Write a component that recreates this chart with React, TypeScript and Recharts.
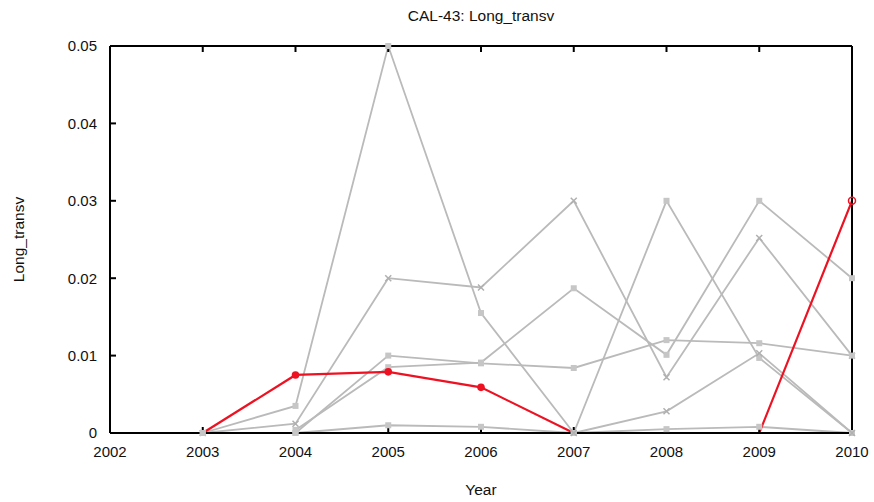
import { LineChart, Line, XAxis, YAxis } from "recharts";

const years = [2002, 2003, 2004, 2005, 2006, 2007, 2008, 2009, 2010];
const yTicks = [0, 0.01, 0.02, 0.03, 0.04, 0.05];

// gray = other sections, red = CAL-43
const s1 = [null, 0, 0.0035, 0.05, 0.0155, 0, 0.03, 0.0097, 0];
const s2 = [null, 0, 0.0012, 0.02, 0.0188, 0.03, 0.0072, 0.0252, 0.01];
const s3 = [null, null, 0, 0.01, 0.009, 0.0084, 0.012, 0.0116, 0.01];
const s4 = [null, null, 0.0004, 0.0085, 0.0091, 0.0187, 0.0101, 0.03, 0.02];
const s5 = [null, 0, 0, 0.001, 0.0008, 0, 0.0005, 0.0008, 0];
const s6 = [null, null, null, null, null, 0, 0.0028, 0.0103, 0];
const cal43 = [null, 0, 0.0075, 0.0079, 0.0059, 0, null, 0, 0.03];

const data = years.map((year, i) => ({
  year,
  s1: s1[i], s2: s2[i], s3: s3[i], s4: s4[i], s5: s5[i], s6: s6[i],
  cal43: cal43[i],
}));

const GRAY = "#bababa";
const RED = "#ee1122";
const FONT = "'Liberation Sans', Arial, sans-serif";

const SquareDot = (props: any) => {
  const { cx, cy, value, index } = props;
  if (value == null || cx == null || cy == null) return <g key={index} />;
  return <rect key={index} x={cx - 3} y={cy - 3} width={6} height={6} fill="#c6c6c6" />;
};

const CrossDot = (props: any) => {
  const { cx, cy, value, index } = props;
  if (value == null || cx == null || cy == null) return <g key={index} />;
  return (
    <path
      key={index}
      d={`M${cx - 3},${cy - 3}L${cx + 3},${cy + 3}M${cx - 3},${cy + 3}L${cx + 3},${cy - 3}`}
      stroke="#b0b0b0"
      strokeWidth={1.5}
    />
  );
};

// red markers only where the section has a value above zero; last one hollow
const RedDot = (props: any) => {
  const { cx, cy, value, index } = props;
  if (!value || cx == null || cy == null) return <g key={index} />;
  if (index === years.length - 1)
    return <circle key={index} cx={cx} cy={cy} r={3.5} fill="none" stroke={RED} strokeWidth={1.5} />;
  return <circle key={index} cx={cx} cy={cy} r={3.8} fill={RED} />;
};

const tickStyle = { fontSize: 15, fill: "#111", fontFamily: FONT };
const textStyle = { fontSize: 15.5, fill: "#111", fontFamily: FONT };
const frame = { stroke: "#000", strokeWidth: 2 };

export default function App() {
  return (
    <div style={{ position: "absolute", left: 0, top: 0, background: "#fff" }}>
      <LineChart width={874} height={502} data={data} margin={{ top: 0, right: 21, bottom: 0, left: 0 }}>
        <XAxis
          dataKey="year" type="number" domain={[2002, 2010]} ticks={years} interval={0}
          height={69} tickSize={-6} tickMargin={19}
          tick={tickStyle} axisLine={frame} tickLine={frame}
          label={{ value: "Year", position: "insideBottom", offset: 7, style: textStyle }}
        />
        <XAxis
          xAxisId="top" orientation="top" dataKey="year" type="number" domain={[2002, 2010]}
          ticks={years} interval={0} height={46} tickSize={-6} tickFormatter={() => ""}
          axisLine={frame} tickLine={frame}
          label={{ value: "CAL-43: Long_transv", position: "insideTop", offset: 10, style: textStyle }}
        />
        <YAxis
          domain={[0, 0.05]} ticks={yTicks} interval={0} width={110}
          tickSize={-6} tickMargin={19} tick={tickStyle} axisLine={frame} tickLine={frame}
          label={{ value: "Long_transv", angle: -90, position: "insideLeft", offset: 18, style: { ...textStyle, textAnchor: "middle" } }}
        />
        <YAxis
          yAxisId="right" orientation="right" domain={[0, 0.05]} ticks={yTicks} interval={0}
          width={1} tickSize={-6} tickFormatter={() => ""} axisLine={frame} tickLine={frame}
        />
        <Line dataKey="s1" stroke={GRAY} strokeWidth={1.8} dot={SquareDot} activeDot={false} isAnimationActive={false} />
        <Line dataKey="s2" stroke={GRAY} strokeWidth={1.8} dot={CrossDot} activeDot={false} isAnimationActive={false} />
        <Line dataKey="s3" stroke={GRAY} strokeWidth={1.8} dot={SquareDot} activeDot={false} isAnimationActive={false} />
        <Line dataKey="s4" stroke={GRAY} strokeWidth={1.8} dot={SquareDot} activeDot={false} isAnimationActive={false} />
        <Line dataKey="s5" stroke={GRAY} strokeWidth={1.8} dot={SquareDot} activeDot={false} isAnimationActive={false} />
        <Line dataKey="s6" stroke={GRAY} strokeWidth={1.8} dot={CrossDot} activeDot={false} isAnimationActive={false} />
        <Line dataKey="cal43" stroke={RED} strokeWidth={2.2} dot={RedDot} activeDot={false} isAnimationActive={false} />
      </LineChart>
    </div>
  );
}
